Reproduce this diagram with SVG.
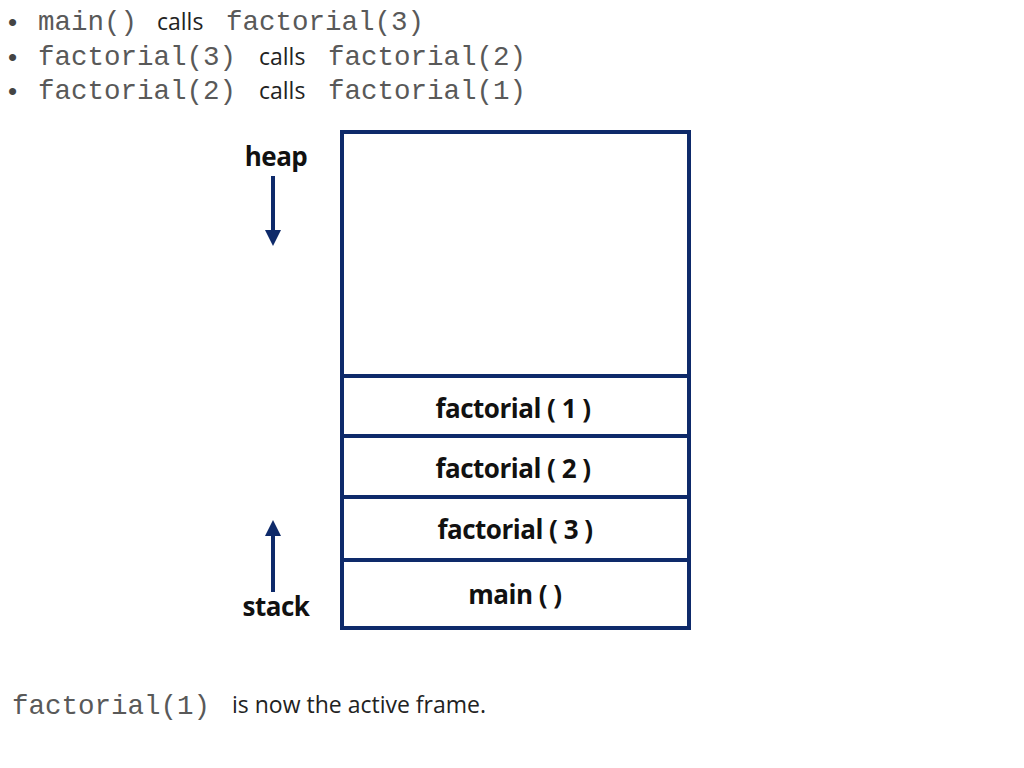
<svg xmlns="http://www.w3.org/2000/svg" width="1024" height="768" viewBox="0 0 1024 768">
<style>
.m{font-family:"Liberation Mono",monospace;font-size:27.5px;fill:#595959}
.s{font-family:"Open Sans","Liberation Sans",sans-serif;font-size:23px;fill:#222}
.bl{font-family:"Liberation Sans",sans-serif;font-size:26px;fill:#444}
.b{font-family:"Open Sans","Liberation Sans",sans-serif;font-size:26px;font-weight:bold;fill:#111;text-anchor:middle;letter-spacing:-0.5px}
.ln{stroke:#0e2a6a;stroke-width:4;fill:none}
</style>
<defs><marker id="a" markerWidth="4" markerHeight="4" refX="2" refY="2" orient="auto"><path d="M0,0L4,2L0,4z" fill="#0e2a6a"/></marker></defs>
<rect width="1024" height="768" fill="#fff"/>
<g id="bullets">
<text x="8" y="31" class="bl">•</text><text x="38" y="30" class="m">main()</text><text x="157" y="30" class="s">calls</text><text x="226" y="30" class="m">factorial(3)</text>
<text x="8" y="66" class="bl">•</text><text x="38" y="65" class="m">factorial(3)</text><text x="259" y="65" class="s">calls</text><text x="328" y="65" class="m">factorial(2)</text>
<text x="8" y="100" class="bl">•</text><text x="38" y="99" class="m">factorial(2)</text><text x="259" y="99" class="s">calls</text><text x="328" y="99" class="m">factorial(1)</text>
</g>
<g id="memory">
<rect x="342" y="132" width="347" height="496" class="ln"/>
<line x1="342" y1="376" x2="689" y2="376" class="ln"/>
<line x1="342" y1="436" x2="689" y2="436" class="ln"/>
<line x1="342" y1="497" x2="689" y2="497" class="ln"/>
<line x1="342" y1="560" x2="689" y2="560" class="ln"/>
</g>
<g id="frame1"><text x="513" y="418" class="b">factorial ( 1 )</text></g>
<g id="frame2"><text x="513" y="478" class="b">factorial ( 2 )</text></g>
<g id="frame3"><text x="515" y="539" class="b">factorial ( 3 )</text></g>
<g id="main"><text x="515" y="604" class="b">main ( )</text></g>
<g id="heap"><text x="276" y="166" class="b">heap</text></g>
<g id="stack"><text x="276" y="616" class="b">stack</text></g>
<g id="connectors">
<line x1="273" y1="176" x2="273" y2="238" class="ln" marker-end="url(#a)"/>
<line x1="273" y1="592" x2="273" y2="528" class="ln" marker-end="url(#a)"/>
</g>
<g id="caption"><text x="12" y="714" class="m">factorial(1)</text><text x="232" y="713" class="s">is now the active frame.</text></g>
</svg>
